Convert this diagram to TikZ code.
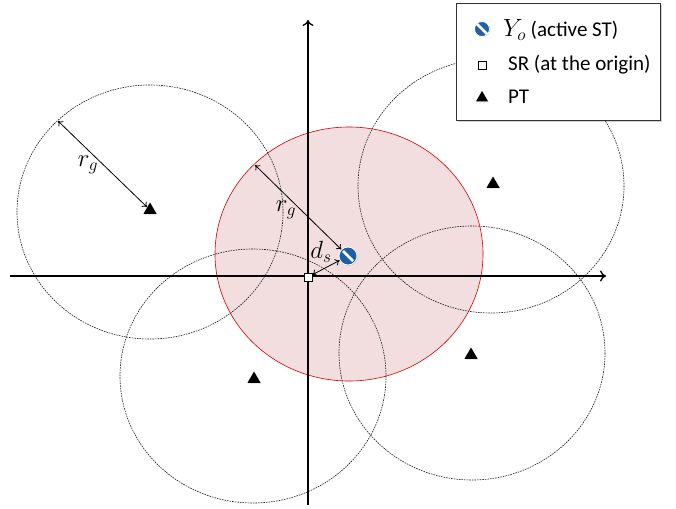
\documentclass[tikz,border=0pt]{standalone}
\usepackage{fontspec}
\newfontfamily\legfont{Carlito}
\usetikzlibrary{shapes.geometric,shadows,arrows.meta}
\definecolor{stblue}{RGB}{30,95,165}
\definecolor{pinkfill}{RGB}{242,222,222}
\begin{document}
\begin{tikzpicture}[x=1pt,y=-1pt,
  dcirc/.style={draw=black!90,line width=0.6pt,dash pattern=on 1.6pt off 1pt},
  ptri/.style={regular polygon,regular polygon sides=3,fill=black,minimum size=15pt,inner sep=0pt,drop shadow={opacity=0.25,shadow xshift=0.8pt,shadow yshift=-0.8pt}},
  yostyle/.style={circle,fill=stblue,draw=white,line width=0.8pt,minimum size=18pt,inner sep=0pt,
    drop shadow={opacity=0.3,shadow xshift=0.8pt,shadow yshift=-0.8pt},
    path picture={\draw[white,line width=2.8pt] ([shift={(-5pt,5pt)}]path picture bounding box.center) -- ([shift={(5pt,-5pt)}]path picture bounding box.center);}},
  srbox/.style={rectangle,draw=black,fill=white,line width=0.6pt,minimum size=8pt,inner sep=0pt},
  axis/.style={line width=2pt,-{To[length=6pt,width=11pt,line width=1.3pt]}},
  meas/.style={line width=0.8pt,{To[length=4.5pt,width=7pt]}-{To[length=4.5pt,width=7pt]}},
  mlab/.style={font=\fontsize{27}{29}\selectfont,inner sep=0pt},
  legtext/.style={font=\legfont\fontsize{21}{24}\selectfont,anchor=west,inner sep=0pt}
]
\useasboundingbox (0,0) rectangle (676,508);
% red region around Y_o
\filldraw[fill=pinkfill,draw=red!85!black,line width=0.6pt] (349,254) ellipse [x radius=134,y radius=127];
% PT circles
\draw[dcirc] (150,212) ellipse [x radius=133,y radius=127];
\draw[dcirc] (253,376) ellipse [x radius=133,y radius=127];
\draw[dcirc] (491,186) ellipse [x radius=133,y radius=127];
\draw[dcirc] (472,353) ellipse [x radius=133,y radius=127];
% axes
\coordinate (xs) at (10,276);
\coordinate (xe) at (606,276);
\coordinate (ys) at (308,505);
\coordinate (ye) at (308,20);
\draw[axis] (xs) -- (xe);
\draw[axis] (ys) -- (ye);
% PTs
\node[ptri] (pt1) at (150,210) {};
\node[ptri] (pt2) at (254,379) {};
\node[ptri] (pt3) at (493,184) {};
\node[ptri] (pt4) at (471,355) {};
% SR and Y_o
\node[srbox] (sr) at (308,277) {};
\node[yostyle] (yo) at (348,256) {};
% measurement arrows
\coordinate (c1) at (58,121);
\coordinate (c2) at (255,165);
\draw[meas] (c1) -- (pt1.north west);
\node[mlab] (rg1) at (88,165) {$r_g$};
\draw[meas] (c2) -- (yo);
\node[mlab] (rg2) at (286,210) {$r_g$};
\draw[meas] (sr) -- (yo);
\node[mlab] (ds) at (321,252) {$d_s$};
% legend
\node[draw=black!80,line width=0.7pt,fill=white,minimum width=204pt,minimum height=117pt,anchor=north west,inner sep=0pt,
  drop shadow={opacity=0.35,shadow xshift=2pt,shadow yshift=-2pt}] (leg) at (456,3) {};
\node[yostyle,minimum size=15pt] (lyo) at (482,29) {};
\node[srbox] (lsr) at (482,65) {};
\node[ptri,minimum size=14pt] (lpt) at (482,98) {};
\node[legtext] (t1) at (503,30) {{\fontsize{24}{26}\selectfont$Y_o$} (active ST)};
\node[legtext] (t2) at (508,65) {SR (at the origin)};
\node[legtext] (t3) at (508,97) {PT};
\end{tikzpicture}
\end{document}
